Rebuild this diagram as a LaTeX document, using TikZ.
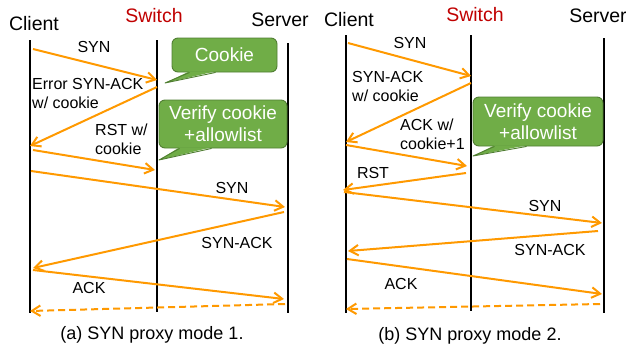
\documentclass[tikz,border=0pt]{standalone}
\usepackage{fontspec}
\setmainfont{Liberation Sans}
\usetikzlibrary{arrows.meta,calc}
\definecolor{msgorange}{RGB}{255,153,0}
\definecolor{boxgreen}{RGB}{112,173,71}
\definecolor{boxedge}{RGB}{80,126,50}
\definecolor{switchred}{RGB}{192,0,0}
\tikzset{
  hostlabel/.style={anchor=base,inner sep=0pt,font=\fontsize{19.5}{22}\selectfont},
  msglabel/.style={anchor=base,inner sep=0pt,font=\fontsize{16}{19}\selectfont},
  msgtwo/.style={anchor=north west,inner sep=0pt,align=left,font=\fontsize{16}{18.8}\selectfont},
  caption/.style={anchor=base,inner sep=0pt,font=\fontsize{18}{21}\selectfont},
  lifeline/.style={draw=black,line width=1.9pt},
  msg/.style={draw=msgorange,line width=2pt,-{Straight Barb[length=8.5pt,width=10.5pt,line width=2pt]}},
  reply/.style={msg,dash pattern=on 7pt off 4pt},
  callout/.style={draw=boxedge,fill=boxgreen,line width=0.9pt,rounded corners=6pt,
    text=white,align=center,inner sep=0pt,font=\fontsize{19}{22}\selectfont},
  pointerfill/.style={fill=boxgreen},
  pointeredge/.style={draw=boxedge,line width=0.9pt,line join=round}
}
\newcommand{\pointer}[4]{%
  % #1 box node, #2 left base offset, #3 right base offset, #4 tip
  \fill[pointerfill] ($(#1.south west)+(#2,-1.2)$) -- (#4) -- ($(#1.south west)+(#3,-1.2)$) -- cycle;
  \draw[pointeredge] ($(#1.south west)+(#2,0)$) -- (#4) -- ($(#1.south west)+(#3,0)$);
}
\begin{document}
\begin{tikzpicture}[x=1pt,y=-1pt]
\useasboundingbox (0,0) rectangle (626,349);

% ---------------- (a) SYN proxy mode 1 ----------------
\node[hostlabel] (aclient) at (34,30) {Client};
\node[hostlabel,text=switchred] (aswitch) at (154,22) {Switch};
\node[hostlabel] (aserver) at (280,26) {Server};

\coordinate (aC1) at (30,40);  \coordinate (aC2) at (30,313);
\coordinate (aS1) at (157,40); \coordinate (aS2) at (157,312);
\coordinate (aV1) at (288,43); \coordinate (aV2) at (288,313);
\draw[lifeline] (aC1) -- (aC2);
\draw[lifeline] (aS1) -- (aS2);
\draw[lifeline] (aV1) -- (aV2);

\node[callout,minimum width=105pt,minimum height=34pt] (acookie) at (224.5,55) {Cookie};
\coordinate (acookietip) at (165,83);
\pointer{acookie}{18}{44}{acookietip}

\node[callout,minimum width=128pt,minimum height=48pt] (averify) at (223,124) {Verify cookie\\+allowlist};
\coordinate (averifytip) at (159,160);
\pointer{averify}{21}{53}{averifytip}

\coordinate (a1s) at (33,49);   \coordinate (a1e) at (157,80);
\coordinate (a2s) at (157,87);  \coordinate (a2e) at (30,146);
\coordinate (a3s) at (33,150);  \coordinate (a3e) at (155,170);
\coordinate (a4s) at (31,171);  \coordinate (a4e) at (285,207);
\coordinate (a5s) at (284,212); \coordinate (a5e) at (33,268);
\coordinate (a6s) at (33,270);  \coordinate (a6e) at (284,299);
\coordinate (a7s) at (285,304); \coordinate (a7e) at (30,311);
\draw[msg] (a1s) -- (a1e);
\draw[msg] (a2s) -- (a2e);
\draw[msg] (a3s) -- (a3e);
\draw[msg] (a4s) -- (a4e);
\draw[msg] (a5s) -- (a5e);
\draw[msg] (a6s) -- (a6e);
\draw[reply] (a7s) -- (a7e);

\node[msglabel] (al1) at (94,52) {SYN};
\node[msgtwo] (al2) at (32,78) {Error SYN-ACK\\w/ cookie};
\node[msgtwo] (al3) at (95,124) {RST w/\\cookie};
\node[msglabel] (al4) at (232,193) {SYN};
\node[msglabel] (al5) at (237,248) {SYN-ACK};
\node[msglabel] (al6) at (89,293) {ACK};

\node[caption] (acap) at (152,339) {(a) SYN proxy mode 1.};

% ---------------- (b) SYN proxy mode 2 ----------------
\node[hostlabel] (bclient) at (349,26) {Client};
\node[hostlabel,text=switchred] (bswitch) at (475,21) {Switch};
\node[hostlabel] (bserver) at (598,22) {Server};

\coordinate (bC1) at (346,35); \coordinate (bC2) at (346,313);
\coordinate (bS1) at (471,35); \coordinate (bS2) at (471,311);
\coordinate (bV1) at (604,38); \coordinate (bV2) at (604,313);
\draw[lifeline] (bC1) -- (bC2);
\draw[lifeline] (bS1) -- (bS2);
\draw[lifeline] (bV1) -- (bV2);

\node[callout,minimum width=130pt,minimum height=49pt] (bverify) at (538,121.5) {Verify cookie\\+allowlist};
\coordinate (bverifytip) at (473,156);
\pointer{bverify}{22}{54}{bverifytip}

\coordinate (b1s) at (348,43);  \coordinate (b1e) at (471,76);
\coordinate (b2s) at (471,83);  \coordinate (b2e) at (346,142);
\coordinate (b3s) at (346,145); \coordinate (b3e) at (467,166);
\coordinate (b4s) at (466,173); \coordinate (b4e) at (343,190);
\coordinate (b5s) at (344,192); \coordinate (b5e) at (602,223);
\coordinate (b6s) at (598,231); \coordinate (b6e) at (348,251);
\coordinate (b7s) at (347,259); \coordinate (b7e) at (602,294);
\coordinate (b8s) at (600,304); \coordinate (b8e) at (346,309);
\draw[msg] (b1s) -- (b1e);
\draw[msg] (b2s) -- (b2e);
\draw[msg] (b3s) -- (b3e);
\draw[msg] (b4s) -- (b4e);
\draw[msg] (b5s) -- (b5e);
\draw[msg] (b6s) -- (b6e);
\draw[msg] (b7s) -- (b7e);
\draw[reply] (b8s) -- (b8e);

\node[msglabel] (bl1) at (410,48) {SYN};
\node[msgtwo] (bl2) at (352,71) {SYN-ACK\\w/ cookie};
\node[msgtwo] (bl3) at (400,119) {ACK w/\\cookie+1};
\node[msglabel] (bl4) at (373,178) {RST};
\node[msglabel] (bl5) at (545,211) {SYN};
\node[msglabel] (bl6) at (550,255) {SYN-ACK};
\node[msglabel] (bl7) at (401,289) {ACK};

\node[caption] (bcap) at (470,340) {(b) SYN proxy mode 2.};
\end{tikzpicture}
\end{document}
